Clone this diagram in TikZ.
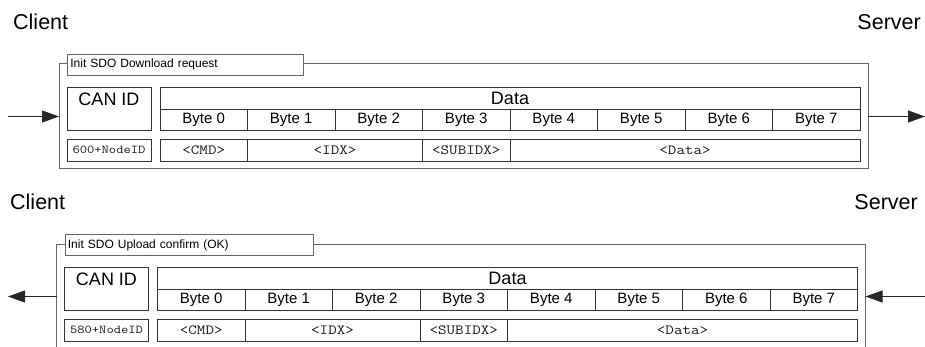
\documentclass[tikz,border=0pt]{standalone}
\usepackage{fontspec}
\setmainfont{Liberation Sans}
\setmonofont[FakeStretch=1.18]{Latin Modern Mono}
\usetikzlibrary{arrows.meta}

% one SDO message: suffix, title, title width, CAN id
\newcommand{\sdomsg}[4]{%
  \node[frame, minimum width=809pt, minimum height=105pt] (frame#1) at (59,64) {};
  \node[titlebox, text width=#3] (title#1) at (67,54) {#2};
  \node[cell, minimum width=84pt, minimum height=43pt] (can#1) at (67,87) {};
  \node[big, below=2pt] (canlbl#1) at (can#1.north) {CAN ID};
  \node[cell, big, minimum width=700pt, minimum height=22pt] (data#1) at (160,87) {Data};
  \foreach \i in {0,...,7}
    \node[cell, bytetxt, minimum width=87.5pt, minimum height=21pt] (byte#1\i) at ({160+87.5*\i},109) {Byte \i};
  \node[cell, monosmall, minimum width=84pt] (id#1) at (67,139) {#4};
  \node[cell, mono, minimum width=87.5pt] (cmd#1) at (160,139) {<CMD>};
  \node[cell, mono, minimum width=175pt] (idx#1) at (247.5,139) {<IDX>};
  \node[cell, mono, minimum width=87.5pt] (sub#1) at (422.5,139) {<SUBIDX>};
  \node[cell, mono, minimum width=350pt] (pay#1) at (510,139) {<Data>};
}

\begin{document}
\begin{tikzpicture}[x=1pt, y=-1pt, >={Triangle[length=17pt,width=12pt]},
    frame/.style={draw=black!60, line width=1pt, anchor=north west, inner sep=0pt, outer sep=0pt},
    titlebox/.style={draw=black!60, fill=white, line width=0.8pt, anchor=north west, minimum height=21pt,
      inner xsep=3pt, inner ysep=0pt, align=left, font=\fontsize{12}{14}\selectfont},
    cell/.style={draw=black!80, line width=0.9pt, anchor=north west, minimum height=22pt, inner sep=0pt, outer sep=0pt},
    big/.style={font=\fontsize{18}{20}\selectfont},
    bytetxt/.style={font=\fontsize{15}{17}\selectfont},
    mono/.style={text=black!90, font=\ttfamily\fontsize{14}{16}\selectfont},
    monosmall/.style={text=black!90, font=\ttfamily\fontsize{12}{14}\selectfont},
    side/.style={font=\fontsize{21.5}{24}\selectfont, inner sep=0pt},
    link/.style={->, line width=0.8pt, black!85}]
  \useasboundingbox (0,0) rectangle (925,347);
  \clip (0,0) rectangle (925,347);

  % request
  \node[side, anchor=base west] (clientA) at (13,30) {Client};
  \node[side, anchor=base east] (serverA) at (921,30) {Server};
  \begin{scope}
    \sdomsg{A}{Init SDO Download request}{230pt}{600+NodeID}
  \end{scope}
  \coordinate (cin) at (8,116.5);
  \coordinate (sout) at (925,116.5);
  \draw[link] (cin) -- (frameA.west);
  \draw[link] (frameA.east) -- (sout);

  % confirm
  \node[side, anchor=base west] (clientB) at (10,210) {Client};
  \node[side, anchor=base east] (serverB) at (918,210) {Server};
  \begin{scope}[shift={(-2.5,180)}]
    \sdomsg{B}{Init SDO Upload confirm (OK)}{242pt}{580+NodeID}
  \end{scope}
  \coordinate (cout) at (8,296.5);
  \coordinate (sin) at (925,296.5);
  \draw[link] (frameB.west) -- (cout);
  \draw[link] (sin) -- (frameB.east);
\end{tikzpicture}
\end{document}
